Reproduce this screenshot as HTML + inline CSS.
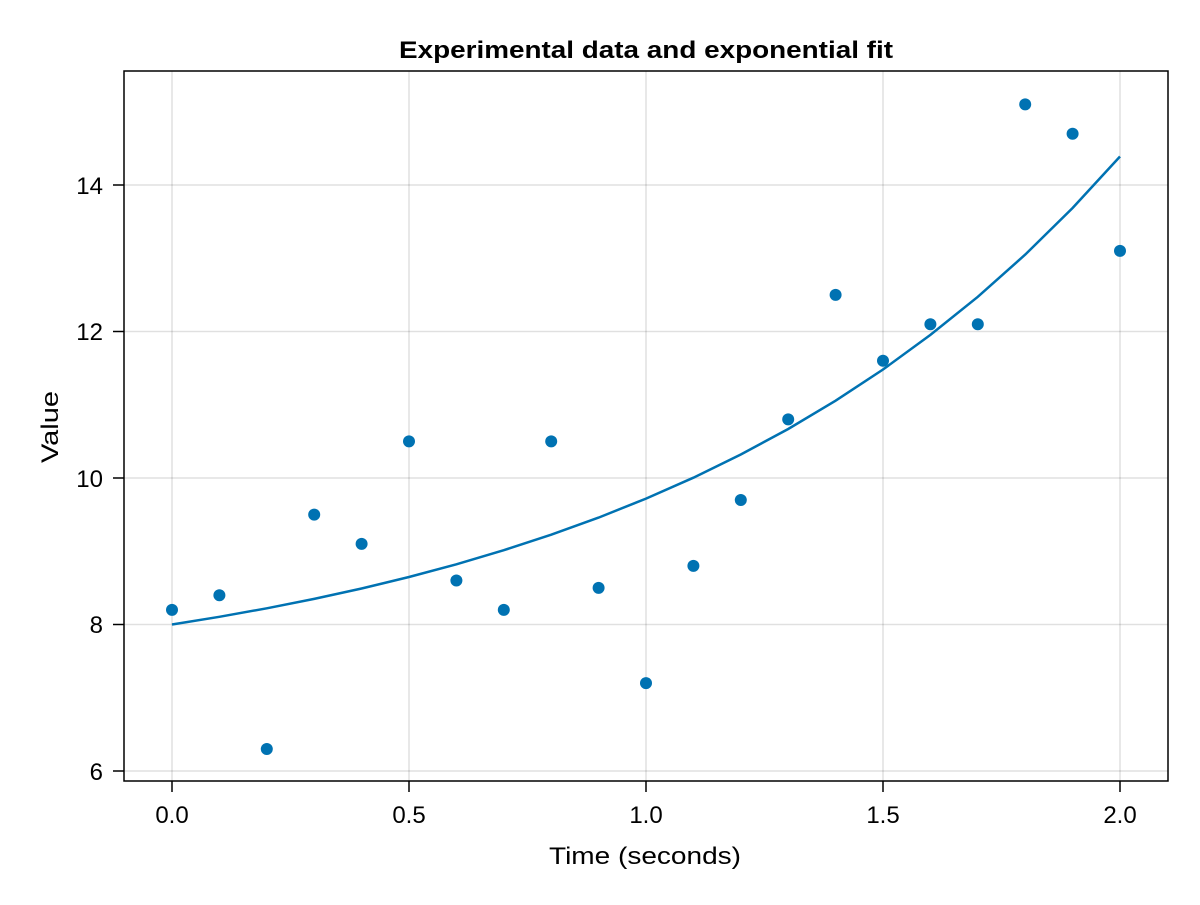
<!DOCTYPE html>
<html><head><style>body{margin:0;background:#fff}</style></head><body>
<svg width="1200" height="900" xmlns="http://www.w3.org/2000/svg" font-family="Liberation Sans, sans-serif">
<rect width="1200" height="900" fill="#fff"/>
<g stroke="#000" stroke-opacity="0.12" stroke-width="1.5">
<line x1="172" y1="71" x2="172" y2="781"/><line x1="409" y1="71" x2="409" y2="781"/><line x1="646" y1="71" x2="646" y2="781"/><line x1="883" y1="71" x2="883" y2="781"/><line x1="1120" y1="71" x2="1120" y2="781"/>
<line x1="124" y1="771" x2="1168" y2="771"/><line x1="124" y1="624.5" x2="1168" y2="624.5"/><line x1="124" y1="478" x2="1168" y2="478"/><line x1="124" y1="331.5" x2="1168" y2="331.5"/><line x1="124" y1="185" x2="1168" y2="185"/>
</g>
<rect x="124" y="71" width="1044" height="710" fill="none" stroke="#000" stroke-width="1.5"/>
<g stroke="#000" stroke-width="1.5">
<line x1="172" y1="781" x2="172" y2="792"/><line x1="409" y1="781" x2="409" y2="792"/><line x1="646" y1="781" x2="646" y2="792"/><line x1="883" y1="781" x2="883" y2="792"/><line x1="1120" y1="781" x2="1120" y2="792"/>
<line x1="113" y1="771" x2="124" y2="771"/><line x1="113" y1="624.5" x2="124" y2="624.5"/><line x1="113" y1="478" x2="124" y2="478"/><line x1="113" y1="331.5" x2="124" y2="331.5"/><line x1="113" y1="185" x2="124" y2="185"/>
</g>
<g font-size="24" text-anchor="middle">
<text x="172" y="823">0.0</text><text x="409" y="823">0.5</text><text x="646" y="823">1.0</text><text x="883" y="823">1.5</text><text x="1120" y="823">2.0</text>
</g>
<g font-size="24" text-anchor="end">
<text x="103" y="780">6</text><text x="103" y="633">8</text><text x="103" y="487">10</text><text x="103" y="340">12</text><text x="103" y="194">14</text>
</g>
<text x="549" y="864" font-size="24" textLength="192" lengthAdjust="spacingAndGlyphs">Time (seconds)</text>
<text transform="translate(58,463) rotate(-90)" font-size="24" textLength="72" lengthAdjust="spacingAndGlyphs">Value</text>
<text x="399" y="58" font-size="24" font-weight="bold" textLength="494" lengthAdjust="spacingAndGlyphs">Experimental data and exponential fit</text>
<polyline fill="none" stroke="#0072b2" stroke-width="2.5" points="172,624.5 219.4,616.8 266.8,608.3 314.2,598.9 361.6,588.5 409,577.0 456.4,564.3 503.8,550.2 551.2,534.7 598.6,517.6 646,498.6 693.4,477.7 740.8,454.5 788.2,429.0 835.6,400.7 883,369.5 930.4,334.9 977.8,296.8 1025.2,254.6 1072.6,208.0 1120,156.5"/>
<g fill="#0072b2">
<circle cx="172" cy="609.85" r="6"/><circle cx="219.4" cy="595.2" r="6"/><circle cx="266.8" cy="749" r="6"/><circle cx="314.2" cy="514.6" r="6"/><circle cx="361.6" cy="543.9" r="6"/><circle cx="409" cy="441.4" r="6"/><circle cx="456.4" cy="580.55" r="6"/><circle cx="503.8" cy="609.85" r="6"/><circle cx="551.2" cy="441.4" r="6"/><circle cx="598.6" cy="587.9" r="6"/><circle cx="646" cy="683.1" r="6"/><circle cx="693.4" cy="565.9" r="6"/><circle cx="740.8" cy="500" r="6"/><circle cx="788.2" cy="419.4" r="6"/><circle cx="835.6" cy="294.9" r="6"/><circle cx="883" cy="360.8" r="6"/><circle cx="930.4" cy="324.2" r="6"/><circle cx="977.8" cy="324.2" r="6"/><circle cx="1025.2" cy="104.4" r="6"/><circle cx="1072.6" cy="133.7" r="6"/><circle cx="1120" cy="250.9" r="6"/>
</g>
</svg>
</body></html>
